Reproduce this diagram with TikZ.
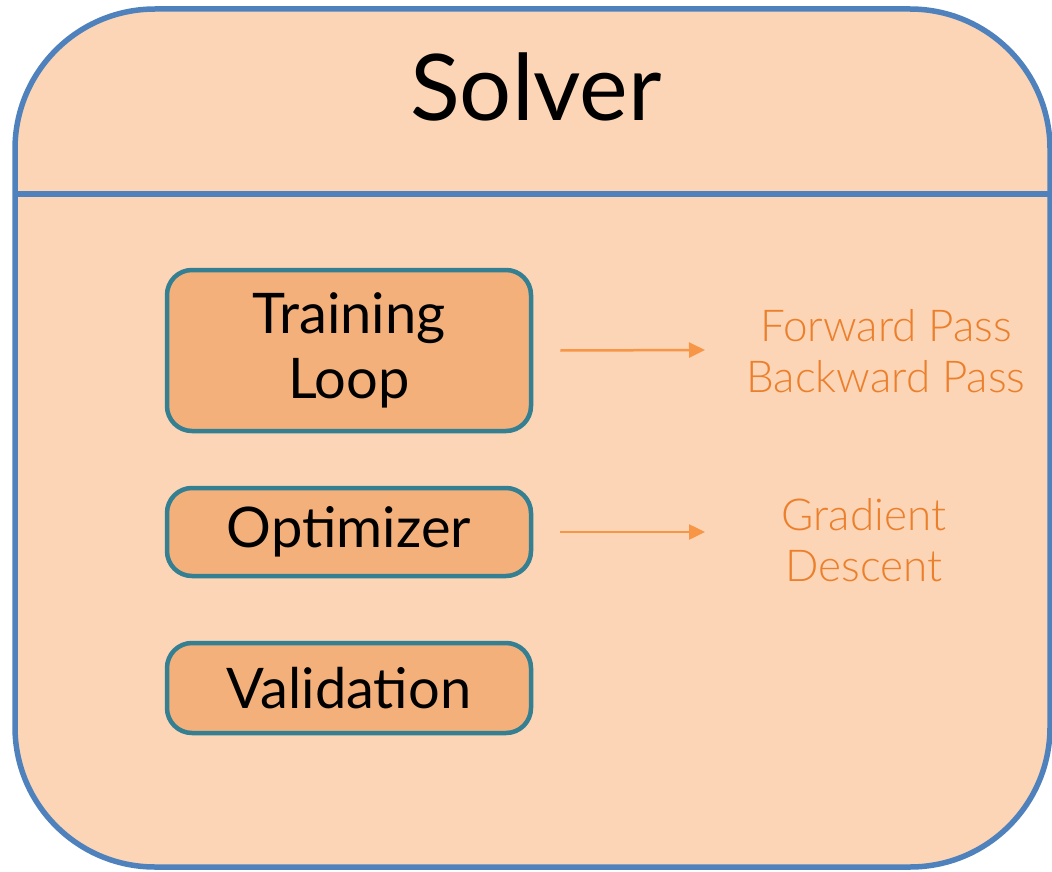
\documentclass[tikz,border=0pt]{standalone}
\usepackage{fontspec}
\setmainfont{Lato}
\newfontfamily\thinfont{Lato Light}
\usetikzlibrary{arrows.meta}
\definecolor{solverfill}{HTML}{FBD5B5}
\definecolor{solverline}{HTML}{4F81BD}
\definecolor{boxfill}{HTML}{F4B07B}
\definecolor{boxline}{HTML}{357F92}
\definecolor{noteorange}{HTML}{EC7F2C}
\definecolor{arroworange}{HTML}{F79646}

\begin{document}
\begin{tikzpicture}
				[x=1pt,y=-1pt,every node/.style={inner sep=0pt},
				part/.style={draw=boxline,fill=boxfill,line width=4.5pt,rounded corners=25pt,minimum width=364pt,align=center,font=\fontsize{56}{65}\selectfont},
				note/.style={text=noteorange,align=center,font=\thinfont\fontsize{44}{51}\selectfont},
				edge/.style={draw=arroworange,line width=2.5pt,-{Triangle[length=16pt,width=15pt]}}]
				\useasboundingbox (0,0) rectangle (1052,872);
				\draw[solverline,fill=solverfill,line width=5.5pt,rounded corners=140pt] (15,9) rectangle (1050,867);
				\draw[solverline,line width=5.5pt] (15,194) -- (1050,194);
				\node (title) at (536,87) {\fontsize{92}{92}\selectfont Solver};
				
				\node[part,minimum height=161pt] (train) at (349,350.5) {Training\\Loop};
				\node[part,minimum height=88pt] (optim) at (349,532) {Optimizer};
				\node[part,minimum height=90pt] (valid) at (349,688) {Validation};
				
				\node[note] (passes) at (886,351) {Forward Pass\\Backward Pass};
				\node[note] (descent) at (864,540) {Gradient\\Descent};
				
				\coordinate (tip1) at (705,350);
				\coordinate (tip2) at (705,532);
				\draw[edge] ([xshift=27pt]train.east) -- (tip1);
				\draw[edge] ([xshift=27pt]optim.east) -- (tip2);
\end{tikzpicture}
\end{document}
